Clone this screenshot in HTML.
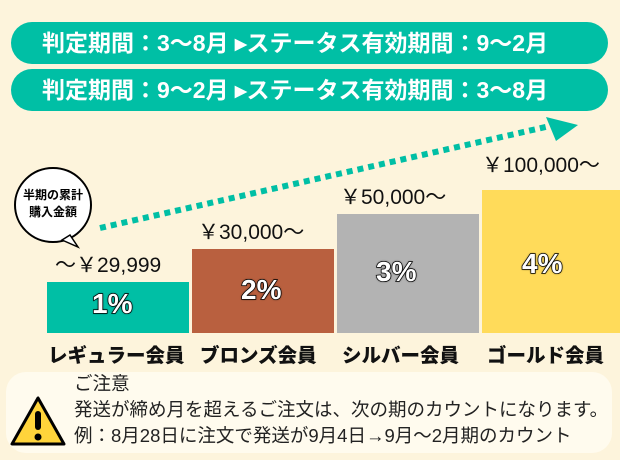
<!DOCTYPE html>
<html><head><meta charset="utf-8"><style>
body{margin:0;width:620px;height:460px;background:#fdf4dc;position:relative;overflow:hidden;font-family:"Liberation Sans","Noto Sans CJK JP",sans-serif}
.a{position:absolute;white-space:nowrap}
.pill{position:absolute;left:11px;width:597px;height:42px;border-radius:21px;background:#00bfa5;color:#fff;font-weight:bold;font-size:23px;line-height:42px;padding-left:31px;box-sizing:border-box}
.bar{position:absolute;bottom:127px}
.pct{position:absolute;font-size:28px;font-weight:900;color:#fff;-webkit-text-stroke:1.5px #000;paint-order:stroke fill;text-shadow:0 0 2px #000}
.price{font-size:21px;color:#111}
.cat{font-size:19.5px;font-weight:900;color:#111;top:339px}
</style></head><body>
<div class="pill" style="top:22px">判定期間：3〜8月 ▸ステータス有効期間：9〜2月</div>
<div class="pill" style="top:69px">判定期間：9〜2月 ▸ステータス有効期間：3〜8月</div>
<svg class="a" style="left:0;top:0" width="620" height="460">
<line x1="100" y1="228" x2="550" y2="126" stroke="#00bfa5" stroke-width="6" stroke-dasharray="6 5"/>
<polygon points="546,117 578,125 556,141" fill="#00bfa5"/>
<ellipse cx="53" cy="205" rx="38" ry="37" fill="#fff" stroke="#000" stroke-width="2"/>
<polygon points="62,240 78,247 70,235" fill="#fff" stroke="#000" stroke-width="1.5"/>
</svg>
<div class="a" style="left:18px;top:187px;font-size:12px;font-weight:bold;line-height:17px;text-align:center;width:70px">半期の累計<br>購入金額</div>
<div class="bar" style="left:47px;width:142px;height:51px;background:#00bfa5"></div>
<div class="bar" style="left:192px;width:142px;height:84px;background:#b9603f"></div>
<div class="bar" style="left:337px;width:142px;height:119px;background:#b3b3b3"></div>
<div class="bar" style="left:482px;width:138px;height:143px;background:#ffdb5a"></div>
<div class="a price" style="left:55px;top:249px">～￥29,999</div>
<div class="a price" style="left:198px;top:216px">￥30,000～</div>
<div class="a price" style="left:340px;top:181px">￥50,000～</div>
<div class="a price" style="left:482px;top:149px">￥100,000～</div>
<div class="a pct" style="left:92px;top:288px">1%</div>
<div class="a pct" style="left:241px;top:274px">2%</div>
<div class="a pct" style="left:376px;top:256px">3%</div>
<div class="a pct" style="left:522px;top:248px">4%</div>
<div class="a cat" style="left:48px">レギュラー会員</div>
<div class="a cat" style="left:200px">ブロンズ会員</div>
<div class="a cat" style="left:342px">シルバー会員</div>
<div class="a cat" style="left:487px">ゴールド会員</div>
<div class="a" style="left:6px;top:372px;width:606px;height:81px;border-radius:20px;background:#fffbee"></div>
<svg class="a" style="left:0;top:0" width="620" height="460">
<polygon points="38,398 12,444 64,444" fill="#ffd43b" stroke="#000" stroke-width="3" stroke-linejoin="round"/>
<rect x="35" y="411" width="6" height="19" rx="3" fill="#000"/><circle cx="38" cy="437" r="3.5" fill="#000"/>
</svg>
<div class="a" style="left:74px;top:371px;font-size:18.5px;line-height:26px;color:#222">ご注意<br>発送が締め月を超えるご注文は、次の期のカウントになります。<br>例：8月28日に注文で発送が9月4日→9月〜2月期のカウント</div>
</body></html>
